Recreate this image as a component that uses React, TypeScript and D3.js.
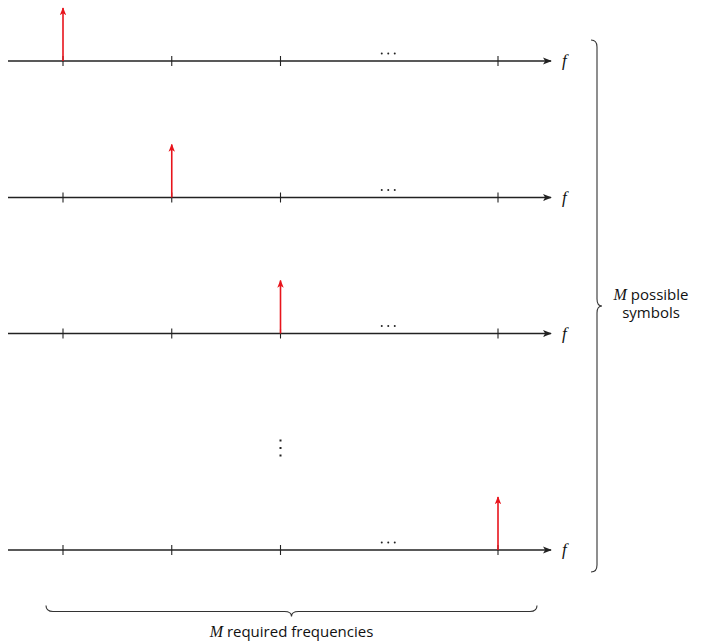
import React from "react";
import * as d3 from "d3";

// ---- data ----
const tickFreqs = [1, 2, 3, 5]; // f1, f2, f3, fM (4 is the ellipsis)
const ellipsisFreq = 4;
const rows = ["s1", "s2", "s3", "dots", "sM"];
const symbols = [
  { row: "s1", freq: 1, amp: 1 },
  { row: "s2", freq: 2, amp: 1 },
  { row: "s3", freq: 3, amp: 1 },
  { row: "sM", freq: 5, amp: 1 },
];
const axisRows = ["s1", "s2", "s3", "sM"];
const rightLabel = ["possible", "symbols"];
const bottomLabel = "required frequencies";

const W = 705;
const H = 644;

export default function App() {
  const x = d3.scaleLinear().domain([1, 5]).range([63, 498]);
  const y = d3.scaleOrdinal<string, number>().domain(rows).range([61, 197.5, 333.5, 448, 550]);
  const amp = d3.scaleLinear().domain([0, 1]).range([0, 53]);
  const axisStart = x.invert(8);
  const axisEnd = x.invert(551);
  const axisCol = "#222";
  const red = "#e8141c";
  const braceCol = "#333";

  // right brace (vertical)
  const bx = 597, bt = 40, bb = 572, bm = (bt + bb) / 2;
  const rBrace = `M ${bx - 6} ${bt} Q ${bx} ${bt} ${bx} ${bt + 7} L ${bx} ${bm - 7} Q ${bx} ${bm} ${bx + 5} ${bm} Q ${bx} ${bm} ${bx} ${bm + 7} L ${bx} ${bb - 7} Q ${bx} ${bb} ${bx - 6} ${bb}`;
  // bottom brace (horizontal)
  const by = 611.5, bl = 46, br = 537, bmx = (bl + br) / 2;
  const bBrace = `M ${bl} ${by - 6} Q ${bl} ${by} ${bl + 7} ${by} L ${bmx - 7} ${by} Q ${bmx} ${by} ${bmx} ${by + 5} Q ${bmx} ${by} ${bmx + 7} ${by} L ${br - 7} ${by} Q ${br} ${by} ${br} ${by - 6}`;

  const sans = "'Open Sans', 'DejaVu Sans', sans-serif";
  const serif = "'Liberation Serif', 'DejaVu Serif', serif";

  return (
    <svg width={W} height={H} style={{ position: "absolute", left: 0, top: 0 }}>
      <defs>
        <marker id="axArrow" viewBox="0 0 10 10" refX="9" refY="5" markerWidth="9" markerHeight="9" markerUnits="userSpaceOnUse" orient="auto">
          <path d="M0,1 L10,5 L0,9 L2.5,5 Z" fill={axisCol} />
        </marker>
        <marker id="redArrow" viewBox="0 0 10 10" refX="9" refY="5" markerWidth="8" markerHeight="8" markerUnits="userSpaceOnUse" orient="auto">
          <path d="M0,1 L10,5 L0,9 L2.5,5 Z" fill={red} />
        </marker>
      </defs>
      {axisRows.map((r) => {
        const yy = y(r);
        return (
          <g key={r}>
            <line x1={x(axisStart)} x2={x(axisEnd)} y1={yy} y2={yy} stroke={axisCol} strokeWidth={1.3} markerEnd="url(#axArrow)" />
            {tickFreqs.map((f) => (
              <line key={f} x1={x(f)} x2={x(f)} y1={yy - 5} y2={yy + 5} stroke={axisCol} strokeWidth={1.1} />
            ))}
            {[-1, 0, 1].map((k) => (
              <circle key={k} cx={x(ellipsisFreq) - 1 + k * 6.5} cy={yy - 7.5} r={1} fill={axisCol} />
            ))}
            <text x={562} y={yy + 5} fontFamily={serif} fontStyle="italic" fontSize={17} fill="#111">f</text>
          </g>
        );
      })}
      {symbols.map((s) => (
        <line key={s.row} x1={x(s.freq)} x2={x(s.freq)} y1={y(s.row)} y2={y(s.row) - amp(s.amp)} stroke={red} strokeWidth={1.6} markerEnd="url(#redArrow)" />
      ))}
      {[-1, 0, 1].map((k) => (
        <rect key={k} x={x(3) - 1} y={y("dots") - 1 + k * 7.5} width={2} height={2} fill={axisCol} />
      ))}
      <path d={rBrace} fill="none" stroke={braceCol} strokeWidth={1.1} />
      <path d={bBrace} fill="none" stroke={braceCol} strokeWidth={1.1} />
      <text x={651} y={300} textAnchor="middle" fontFamily={sans} fontSize={15} fill="#111">
        <tspan fontFamily={serif} fontStyle="italic" fontSize={16}>M</tspan>
        <tspan> {rightLabel[0]}</tspan>
      </text>
      <text x={651} y={318} textAnchor="middle" fontFamily={sans} fontSize={15} fill="#111">{rightLabel[1]}</text>
      <text x={bmx} y={637} textAnchor="middle" fontFamily={sans} fontSize={15} fill="#111">
        <tspan fontFamily={serif} fontStyle="italic" fontSize={16}>M</tspan>
        <tspan> {bottomLabel}</tspan>
      </text>
    </svg>
  );
}
